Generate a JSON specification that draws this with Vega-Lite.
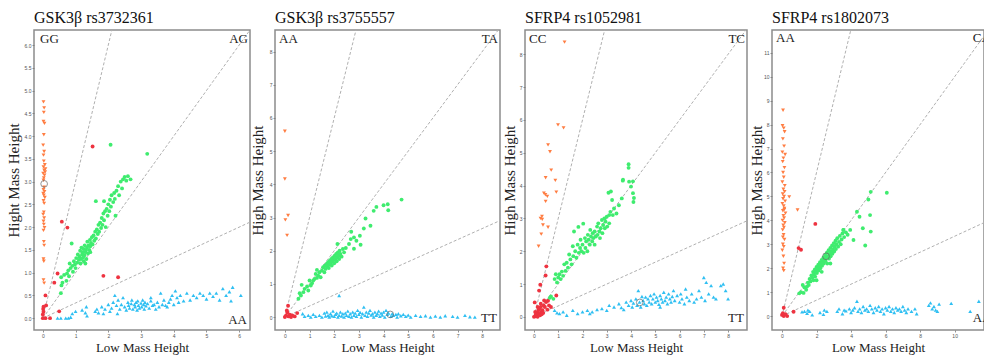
{
"$schema": "https://vega.github.io/schema/vega-lite/v6.json",
"padding": {"left": 5, "top": 9, "right": 0, "bottom": 0},
"bounds": "flush",
"spacing": 25,
"datasets": {
"p1": [
{"g":"o","x":0.02,"y":4.75},{"g":"o","x":0.04,"y":4.62},{"g":"o","x":0.03,"y":4.52},{"g":"o","x":0.02,"y":4.32},{"g":"o","x":0.05,"y":4.28},{"g":"o","x":0.03,"y":4.03},{"g":"o","x":0.01,"y":3.8},{"g":"o","x":0.04,"y":3.66},{"g":"o","x":0.02,"y":3.58},{"g":"o","x":0.03,"y":3.45},{"g":"o","x":0.06,"y":3.37},{"g":"o","x":0.02,"y":3.32},{"g":"o","x":0.08,"y":3.28},{"g":"o","x":0.04,"y":3.25},{"g":"o","x":0.07,"y":3.21},{"g":"o","x":0.01,"y":3.18},{"g":"o","x":0.05,"y":3.14},{"g":"o","x":0.03,"y":3.08},{"g":"o","x":0.02,"y":3.03},{"g":"o","x":0.04,"y":2.88},{"g":"o","x":0.02,"y":2.82},{"g":"o","x":0.05,"y":2.78},{"g":"o","x":0.01,"y":2.74},{"g":"o","x":0.03,"y":2.7},{"g":"o","x":0.06,"y":2.65},{"g":"o","x":0.02,"y":2.58},{"g":"o","x":0.04,"y":2.52},{"g":"o","x":0.03,"y":2.33},{"g":"o","x":0.01,"y":2.28},{"g":"o","x":0.04,"y":2.2},{"g":"o","x":0.02,"y":2.13},{"g":"o","x":0.03,"y":2.06},{"g":"o","x":0.05,"y":1.99},{"g":"o","x":0.02,"y":1.93},{"g":"o","x":0.03,"y":1.68},{"g":"o","x":0.04,"y":1.6},{"g":"o","x":0.02,"y":1.3},{"g":"o","x":0.03,"y":1.25},{"g":"o","x":0.02,"y":0.84},{"g":"o","x":0.04,"y":0.77},
{"g":"r","x":0,"y":0},{"g":"r","x":0.08,"y":0},{"g":"r","x":0.22,"y":0},{"g":"r","x":0,"y":0.08},{"g":"r","x":0.01,"y":0.2},{"g":"r","x":0.02,"y":0.25},{"g":"r","x":0.1,"y":0.28},{"g":"r","x":0.08,"y":0.5},{"g":"r","x":0.35,"y":0.78},{"g":"r","x":0.45,"y":0.98},{"g":"r","x":0.58,"y":2.12},{"g":"r","x":0.75,"y":1.99},{"g":"r","x":1.52,"y":3.77},{"g":"r","x":1.85,"y":0.93},{"g":"r","x":2.3,"y":0.9},{"g":"r","x":0.5,"y":0.15},{"g":"r","x":0.02,"y":0.14},
{"g":"g","x":0.55,"y":0.55},{"g":"g","x":0.57,"y":0.72},{"g":"g","x":0.6,"y":0.78},{"g":"g","x":0.56,"y":0.9},{"g":"g","x":0.65,"y":0.95},{"g":"g","x":0.72,"y":0.82},{"g":"g","x":0.74,"y":0.98},{"g":"g","x":0.78,"y":1.05},{"g":"g","x":0.8,"y":0.92},{"g":"g","x":0.85,"y":1.1},{"g":"g","x":0.82,"y":1.2},{"g":"g","x":0.9,"y":1.15},{"g":"g","x":0.92,"y":1.02},{"g":"g","x":0.95,"y":1.25},{"g":"g","x":0.98,"y":1.18},{"g":"g","x":1.0,"y":1.1},{"g":"g","x":1.02,"y":1.32},{"g":"g","x":1.05,"y":1.22},{"g":"g","x":1.07,"y":1.4},{"g":"g","x":1.1,"y":1.28},{"g":"g","x":1.12,"y":1.35},{"g":"g","x":1.14,"y":1.48},{"g":"g","x":1.15,"y":1.2},{"g":"g","x":1.17,"y":1.3},{"g":"g","x":1.18,"y":1.55},{"g":"g","x":1.2,"y":1.4},{"g":"g","x":1.22,"y":1.45},{"g":"g","x":1.23,"y":1.33},{"g":"g","x":1.25,"y":1.52},{"g":"g","x":1.27,"y":1.38},{"g":"g","x":1.28,"y":1.6},{"g":"g","x":1.3,"y":1.45},{"g":"g","x":1.32,"y":1.5},{"g":"g","x":1.33,"y":1.3},{"g":"g","x":1.35,"y":1.55},{"g":"g","x":1.36,"y":1.68},{"g":"g","x":1.38,"y":1.42},{"g":"g","x":1.4,"y":1.6},{"g":"g","x":1.42,"y":1.5},{"g":"g","x":1.44,"y":1.72},{"g":"g","x":1.45,"y":1.58},{"g":"g","x":1.47,"y":1.65},{"g":"g","x":1.5,"y":1.78},{"g":"g","x":1.52,"y":1.62},{"g":"g","x":1.55,"y":1.82},{"g":"g","x":1.57,"y":1.7},{"g":"g","x":1.6,"y":1.9},{"g":"g","x":1.62,"y":1.75},{"g":"g","x":1.65,"y":1.95},{"g":"g","x":1.68,"y":1.85},{"g":"g","x":1.7,"y":2.05},{"g":"g","x":1.72,"y":1.9},{"g":"g","x":1.75,"y":2.1},{"g":"g","x":1.78,"y":1.98},{"g":"g","x":1.8,"y":2.2},{"g":"g","x":1.82,"y":2.05},{"g":"g","x":1.85,"y":2.3},{"g":"g","x":1.87,"y":2.15},{"g":"g","x":1.9,"y":2.35},{"g":"g","x":1.92,"y":2.0},{"g":"g","x":1.95,"y":2.4},{"g":"g","x":1.98,"y":2.25},{"g":"g","x":2.0,"y":2.5},{"g":"g","x":2.03,"y":2.35},{"g":"g","x":2.05,"y":2.6},{"g":"g","x":2.08,"y":2.45},{"g":"g","x":2.1,"y":2.7},{"g":"g","x":2.15,"y":2.55},{"g":"g","x":2.18,"y":2.75},{"g":"g","x":2.2,"y":2.62},{"g":"g","x":2.22,"y":2.25},{"g":"g","x":2.25,"y":2.8},{"g":"g","x":2.3,"y":2.9},{"g":"g","x":2.33,"y":2.7},{"g":"g","x":2.38,"y":3.0},{"g":"g","x":2.42,"y":2.85},{"g":"g","x":2.45,"y":3.05},{"g":"g","x":2.5,"y":3.1},{"g":"g","x":2.55,"y":3.02},{"g":"g","x":2.6,"y":3.12},{"g":"g","x":2.68,"y":3.05},{"g":"g","x":1.62,"y":2.57},{"g":"g","x":1.87,"y":2.57},{"g":"g","x":0.88,"y":1.64},{"g":"g","x":2.07,"y":3.81},{"g":"g","x":3.19,"y":3.61},{"g":"g","x":1.3,"y":1.2},{"g":"g","x":1.25,"y":1.25},{"g":"g","x":1.45,"y":1.45},
{"g":"b","x":0.45,"y":0.0},{"g":"b","x":0.55,"y":0.0},{"g":"b","x":0.7,"y":0.0},{"g":"b","x":0.78,"y":0.0},{"g":"b","x":0.85,"y":0.02},{"g":"b","x":0.9,"y":0.1},{"g":"b","x":1.0,"y":0.15},{"g":"b","x":1.2,"y":0.18},{"g":"b","x":1.3,"y":0.12},{"g":"b","x":1.33,"y":0.25},{"g":"b","x":1.35,"y":0.05},{"g":"b","x":1.6,"y":0.15},{"g":"b","x":1.65,"y":0.2},{"g":"b","x":1.7,"y":0.12},{"g":"b","x":1.8,"y":0.25},{"g":"b","x":1.85,"y":0.1},{"g":"b","x":1.9,"y":0.2},{"g":"b","x":2.0,"y":0.3},{"g":"b","x":2.05,"y":0.15},{"g":"b","x":2.1,"y":0.22},{"g":"b","x":2.15,"y":0.35},{"g":"b","x":2.2,"y":0.5},{"g":"b","x":2.25,"y":0.28},{"g":"b","x":2.28,"y":0.1},{"g":"b","x":2.3,"y":0.4},{"g":"b","x":2.35,"y":0.2},{"g":"b","x":2.4,"y":0.3},{"g":"b","x":2.45,"y":0.45},{"g":"b","x":2.5,"y":0.25},{"g":"b","x":2.55,"y":0.18},{"g":"b","x":2.6,"y":0.35},{"g":"b","x":2.62,"y":0.28},{"g":"b","x":2.65,"y":0.22},{"g":"b","x":2.7,"y":0.32},{"g":"b","x":2.72,"y":0.4},{"g":"b","x":2.75,"y":0.2},{"g":"b","x":2.8,"y":0.3},{"g":"b","x":2.82,"y":0.25},{"g":"b","x":2.85,"y":0.35},{"g":"b","x":2.88,"y":0.18},{"g":"b","x":2.9,"y":0.38},{"g":"b","x":2.92,"y":0.28},{"g":"b","x":2.95,"y":0.22},{"g":"b","x":3.0,"y":0.33},{"g":"b","x":3.02,"y":0.25},{"g":"b","x":3.05,"y":0.4},{"g":"b","x":3.08,"y":0.3},{"g":"b","x":3.1,"y":0.2},{"g":"b","x":3.12,"y":0.35},{"g":"b","x":3.15,"y":0.27},{"g":"b","x":3.2,"y":0.32},{"g":"b","x":3.25,"y":0.22},{"g":"b","x":3.3,"y":0.38},{"g":"b","x":3.35,"y":0.28},{"g":"b","x":3.4,"y":0.3},{"g":"b","x":3.45,"y":0.2},{"g":"b","x":3.5,"y":0.35},{"g":"b","x":3.55,"y":0.25},{"g":"b","x":3.6,"y":0.55},{"g":"b","x":3.65,"y":0.3},{"g":"b","x":3.7,"y":0.4},{"g":"b","x":3.75,"y":0.28},{"g":"b","x":3.8,"y":0.25},{"g":"b","x":3.85,"y":0.35},{"g":"b","x":3.9,"y":0.42},{"g":"b","x":4.0,"y":0.3},{"g":"b","x":4.05,"y":0.6},{"g":"b","x":4.1,"y":0.45},{"g":"b","x":4.15,"y":0.35},{"g":"b","x":4.2,"y":0.5},{"g":"b","x":4.3,"y":0.38},{"g":"b","x":4.4,"y":0.55},{"g":"b","x":4.5,"y":0.4},{"g":"b","x":4.6,"y":0.5},{"g":"b","x":4.7,"y":0.45},{"g":"b","x":4.8,"y":0.55},{"g":"b","x":4.9,"y":0.5},{"g":"b","x":5.0,"y":0.42},{"g":"b","x":5.1,"y":0.55},{"g":"b","x":5.2,"y":0.48},{"g":"b","x":5.3,"y":0.55},{"g":"b","x":5.4,"y":0.4},{"g":"b","x":5.5,"y":0.65},{"g":"b","x":5.6,"y":0.5},{"g":"b","x":5.7,"y":0.58},{"g":"b","x":5.75,"y":0.38},{"g":"b","x":5.8,"y":0.68},{"g":"b","x":6.05,"y":0.5},{"g":"b","x":3.95,"y":0.5},{"g":"b","x":3.3,"y":0.45}
],
"p2": [
{"g":"o","x":0.0,"y":5.6},{"g":"o","x":0.0,"y":4.16},{"g":"o","x":0.02,"y":2.93},{"g":"o","x":0.13,"y":3.06},{"g":"o","x":0.09,"y":2.46},
{"g":"r","x":0.13,"y":0.34},{"g":"r","x":0.0,"y":0.0},{"g":"r","x":0.1,"y":0.14},{"g":"r","x":0.2,"y":0.07},{"g":"r","x":0.4,"y":0.02},{"g":"r","x":0.5,"y":0.12},{"g":"r","x":0.05,"y":0.05},{"g":"r","x":0.15,"y":0.02},{"g":"r","x":0.25,"y":0.0},{"g":"r","x":0.08,"y":0.2},{"g":"r","x":0.3,"y":0.05},
{"g":"g","x":0.55,"y":0.55},{"g":"g","x":0.6,"y":0.72},{"g":"g","x":0.65,"y":0.65},{"g":"g","x":0.68,"y":0.97},{"g":"g","x":0.75,"y":0.75},{"g":"g","x":0.8,"y":0.85},{"g":"g","x":0.9,"y":0.92},{"g":"g","x":0.95,"y":0.8},{"g":"g","x":1.0,"y":1.1},{"g":"g","x":1.05,"y":0.95},{"g":"g","x":1.1,"y":1.02},{"g":"g","x":1.2,"y":1.15},{"g":"g","x":1.25,"y":1.3},{"g":"g","x":1.3,"y":1.18},{"g":"g","x":1.35,"y":1.25},{"g":"g","x":1.4,"y":1.35},{"g":"g","x":1.45,"y":1.2},{"g":"g","x":1.5,"y":1.4},{"g":"g","x":1.55,"y":1.5},{"g":"g","x":1.6,"y":1.35},{"g":"g","x":1.62,"y":1.55},{"g":"g","x":1.65,"y":1.45},{"g":"g","x":1.7,"y":1.6},{"g":"g","x":1.72,"y":1.52},{"g":"g","x":1.75,"y":1.65},{"g":"g","x":1.78,"y":1.48},{"g":"g","x":1.8,"y":1.58},{"g":"g","x":1.82,"y":1.7},{"g":"g","x":1.85,"y":1.62},{"g":"g","x":1.88,"y":1.75},{"g":"g","x":1.9,"y":1.55},{"g":"g","x":1.92,"y":1.68},{"g":"g","x":1.95,"y":1.8},{"g":"g","x":1.98,"y":1.72},{"g":"g","x":2.0,"y":1.62},{"g":"g","x":2.02,"y":1.85},{"g":"g","x":2.05,"y":1.75},{"g":"g","x":2.08,"y":1.9},{"g":"g","x":2.1,"y":1.68},{"g":"g","x":2.12,"y":1.8},{"g":"g","x":2.15,"y":1.95},{"g":"g","x":2.18,"y":1.85},{"g":"g","x":2.2,"y":1.75},{"g":"g","x":2.22,"y":2.0},{"g":"g","x":2.25,"y":1.9},{"g":"g","x":2.3,"y":1.82},{"g":"g","x":2.35,"y":2.05},{"g":"g","x":2.4,"y":1.95},{"g":"g","x":2.13,"y":2.2},{"g":"g","x":2.47,"y":2.08},{"g":"g","x":2.67,"y":2.35},{"g":"g","x":2.69,"y":2.57},{"g":"g","x":2.8,"y":2.4},{"g":"g","x":2.8,"y":2.06},{"g":"g","x":3.04,"y":2.45},{"g":"g","x":3.07,"y":2.18},{"g":"g","x":2.9,"y":2.3},{"g":"g","x":3.2,"y":2.67},{"g":"g","x":3.27,"y":2.97},{"g":"g","x":3.47,"y":2.75},{"g":"g","x":3.6,"y":3.2},{"g":"g","x":3.71,"y":3.32},{"g":"g","x":4.0,"y":3.37},{"g":"g","x":4.17,"y":3.4},{"g":"g","x":4.19,"y":3.22},{"g":"g","x":4.73,"y":3.54},{"g":"g","x":2.6,"y":2.2},{"g":"g","x":1.3,"y":1.42},{"g":"g","x":1.15,"y":1.1},
{"g":"b","x":0.72,"y":0.1},{"g":"b","x":0.8,"y":0.02},{"g":"b","x":0.95,"y":0.05},{"g":"b","x":1.05,"y":0.0},{"g":"b","x":1.15,"y":0.08},{"g":"b","x":1.25,"y":0.02},{"g":"b","x":1.4,"y":0.05},{"g":"b","x":1.5,"y":0.0},{"g":"b","x":1.6,"y":0.12},{"g":"b","x":1.65,"y":0.03},{"g":"b","x":1.7,"y":0.15},{"g":"b","x":1.75,"y":0.05},{"g":"b","x":1.8,"y":0.0},{"g":"b","x":1.85,"y":0.1},{"g":"b","x":1.9,"y":0.04},{"g":"b","x":1.95,"y":0.18},{"g":"b","x":2.0,"y":0.02},{"g":"b","x":2.05,"y":0.08},{"g":"b","x":2.1,"y":0.12},{"g":"b","x":2.15,"y":0.0},{"g":"b","x":2.2,"y":0.05},{"g":"b","x":2.25,"y":0.15},{"g":"b","x":2.3,"y":0.03},{"g":"b","x":2.35,"y":0.1},{"g":"b","x":2.4,"y":0.0},{"g":"b","x":2.45,"y":0.12},{"g":"b","x":2.5,"y":0.05},{"g":"b","x":2.55,"y":0.18},{"g":"b","x":2.6,"y":0.02},{"g":"b","x":2.65,"y":0.1},{"g":"b","x":2.7,"y":0.0},{"g":"b","x":2.75,"y":0.15},{"g":"b","x":2.8,"y":0.05},{"g":"b","x":2.85,"y":0.12},{"g":"b","x":2.9,"y":0.02},{"g":"b","x":2.95,"y":0.2},{"g":"b","x":3.0,"y":0.08},{"g":"b","x":3.05,"y":0.14},{"g":"b","x":3.1,"y":0.0},{"g":"b","x":3.15,"y":0.1},{"g":"b","x":3.2,"y":0.3},{"g":"b","x":3.25,"y":0.05},{"g":"b","x":3.3,"y":0.15},{"g":"b","x":3.35,"y":0.02},{"g":"b","x":3.4,"y":0.12},{"g":"b","x":3.45,"y":0.2},{"g":"b","x":3.5,"y":0.06},{"g":"b","x":3.55,"y":0.1},{"g":"b","x":3.6,"y":0.0},{"g":"b","x":3.65,"y":0.15},{"g":"b","x":3.7,"y":0.05},{"g":"b","x":3.75,"y":0.1},{"g":"b","x":3.8,"y":0.18},{"g":"b","x":3.85,"y":0.02},{"g":"b","x":3.9,"y":0.12},{"g":"b","x":3.95,"y":0.06},{"g":"b","x":4.0,"y":0.15},{"g":"b","x":4.05,"y":0.0},{"g":"b","x":4.1,"y":0.2},{"g":"b","x":4.15,"y":0.08},{"g":"b","x":4.2,"y":0.12},{"g":"b","x":4.3,"y":0.02},{"g":"b","x":4.35,"y":0.1},{"g":"b","x":4.4,"y":0.05},{"g":"b","x":4.5,"y":0.08},{"g":"b","x":4.55,"y":0.0},{"g":"b","x":4.6,"y":0.1},{"g":"b","x":4.7,"y":0.04},{"g":"b","x":4.8,"y":0.08},{"g":"b","x":4.9,"y":0.02},{"g":"b","x":5.0,"y":0.06},{"g":"b","x":5.1,"y":0.0},{"g":"b","x":5.3,"y":0.05},{"g":"b","x":5.5,"y":0.02},{"g":"b","x":5.7,"y":0.04},{"g":"b","x":5.9,"y":0.0},{"g":"b","x":6.1,"y":0.03},{"g":"b","x":6.3,"y":0.0},{"g":"b","x":6.5,"y":0.04},{"g":"b","x":6.8,"y":0.02},{"g":"b","x":7.0,"y":0.0},{"g":"b","x":7.3,"y":0.05},{"g":"b","x":7.5,"y":0.01},{"g":"b","x":7.7,"y":0.0},{"g":"b","x":2.2,"y":0.65}
],
"p3": [
{"g":"o","x":1.26,"y":8.37},{"g":"o","x":0.99,"y":5.85},{"g":"o","x":1.22,"y":5.76},{"g":"o","x":0.58,"y":5.24},{"g":"o","x":0.66,"y":5.03},{"g":"o","x":0.71,"y":4.47},{"g":"o","x":0.48,"y":4.24},{"g":"o","x":0.88,"y":4.16},{"g":"o","x":0.41,"y":3.77},{"g":"o","x":0.47,"y":3.72},{"g":"o","x":0.55,"y":3.67},{"g":"o","x":0.48,"y":3.52},{"g":"o","x":0.33,"y":3.06},{"g":"o","x":0.27,"y":3.0},{"g":"o","x":0.34,"y":2.97},{"g":"o","x":0.37,"y":2.8},{"g":"o","x":0.58,"y":2.73},{"g":"o","x":0.3,"y":2.52},{"g":"o","x":0.19,"y":2.15},{"g":"o","x":0.92,"y":3.8},
{"g":"r","x":0.48,"y":1.26},{"g":"r","x":0.51,"y":1.54},{"g":"r","x":0.26,"y":0.98},{"g":"r","x":0.21,"y":0.8},{"g":"r","x":0.03,"y":0.44},{"g":"r","x":0.92,"y":0.65},{"g":"r","x":0.58,"y":0.49},{"g":"r","x":0.0,"y":0.0},{"g":"r","x":0.05,"y":0.02},{"g":"r","x":0.1,"y":0.05},{"g":"r","x":0.15,"y":0.0},{"g":"r","x":0.2,"y":0.1},{"g":"r","x":0.25,"y":0.05},{"g":"r","x":0.3,"y":0.15},{"g":"r","x":0.12,"y":0.12},{"g":"r","x":0.18,"y":0.2},{"g":"r","x":0.22,"y":0.25},{"g":"r","x":0.28,"y":0.3},{"g":"r","x":0.35,"y":0.2},{"g":"r","x":0.4,"y":0.35},{"g":"r","x":0.45,"y":0.3},{"g":"r","x":0.5,"y":0.45},{"g":"r","x":0.08,"y":0.08},{"g":"r","x":0.32,"y":0.08},{"g":"r","x":0.38,"y":0.12},{"g":"r","x":0.05,"y":0.15},{"g":"r","x":0.28,"y":0.4},{"g":"r","x":0.62,"y":0.35},{"g":"r","x":0.7,"y":0.3},{"g":"r","x":0.15,"y":0.3},{"g":"r","x":0.42,"y":0.5},{"g":"r","x":0.55,"y":0.22},
{"g":"g","x":0.65,"y":0.58},{"g":"g","x":0.7,"y":0.62},{"g":"g","x":0.8,"y":0.55},{"g":"g","x":0.85,"y":1.15},{"g":"g","x":0.9,"y":1.3},{"g":"g","x":0.95,"y":1.05},{"g":"g","x":1.0,"y":1.2},{"g":"g","x":1.05,"y":1.3},{"g":"g","x":1.1,"y":1.15},{"g":"g","x":1.15,"y":1.38},{"g":"g","x":1.2,"y":1.25},{"g":"g","x":1.3,"y":1.4},{"g":"g","x":1.35,"y":1.65},{"g":"g","x":1.4,"y":1.5},{"g":"g","x":1.5,"y":1.75},{"g":"g","x":1.55,"y":1.6},{"g":"g","x":1.6,"y":2.15},{"g":"g","x":1.62,"y":1.85},{"g":"g","x":1.65,"y":2.6},{"g":"g","x":1.7,"y":2.0},{"g":"g","x":1.75,"y":1.8},{"g":"g","x":1.8,"y":2.2},{"g":"g","x":1.83,"y":2.74},{"g":"g","x":1.85,"y":1.95},{"g":"g","x":1.9,"y":2.1},{"g":"g","x":1.92,"y":2.35},{"g":"g","x":1.95,"y":2.0},{"g":"g","x":2.0,"y":2.2},{"g":"g","x":2.03,"y":2.84},{"g":"g","x":2.05,"y":1.95},{"g":"g","x":2.1,"y":2.4},{"g":"g","x":2.12,"y":2.1},{"g":"g","x":2.15,"y":2.3},{"g":"g","x":2.2,"y":2.0},{"g":"g","x":2.22,"y":2.5},{"g":"g","x":2.25,"y":2.35},{"g":"g","x":2.3,"y":2.2},{"g":"g","x":2.32,"y":2.65},{"g":"g","x":2.35,"y":2.45},{"g":"g","x":2.4,"y":2.3},{"g":"g","x":2.42,"y":2.55},{"g":"g","x":2.45,"y":2.4},{"g":"g","x":2.5,"y":2.6},{"g":"g","x":2.55,"y":2.45},{"g":"g","x":2.6,"y":2.75},{"g":"g","x":2.62,"y":2.5},{"g":"g","x":2.65,"y":2.85},{"g":"g","x":2.7,"y":2.6},{"g":"g","x":2.72,"y":2.4},{"g":"g","x":2.75,"y":2.7},{"g":"g","x":2.8,"y":2.95},{"g":"g","x":2.82,"y":2.55},{"g":"g","x":2.85,"y":2.8},{"g":"g","x":2.9,"y":3.0},{"g":"g","x":2.92,"y":2.7},{"g":"g","x":2.95,"y":2.9},{"g":"g","x":3.0,"y":3.05},{"g":"g","x":3.02,"y":2.75},{"g":"g","x":3.07,"y":3.78},{"g":"g","x":3.1,"y":3.1},{"g":"g","x":3.15,"y":3.2},{"g":"g","x":3.17,"y":3.82},{"g":"g","x":3.22,"y":3.56},{"g":"g","x":3.25,"y":3.1},{"g":"g","x":3.3,"y":3.3},{"g":"g","x":3.4,"y":3.15},{"g":"g","x":3.5,"y":3.4},{"g":"g","x":3.62,"y":3.61},{"g":"g","x":3.66,"y":4.15},{"g":"g","x":3.67,"y":4.18},{"g":"g","x":3.9,"y":4.65},{"g":"g","x":3.9,"y":4.54},{"g":"g","x":3.92,"y":4.12},{"g":"g","x":4.0,"y":3.97},{"g":"g","x":4.08,"y":4.13},{"g":"g","x":4.08,"y":3.77},{"g":"g","x":4.12,"y":3.62},{"g":"g","x":4.1,"y":3.5},{"g":"g","x":3.1,"y":2.85},{"g":"g","x":1.45,"y":1.9},{"g":"g","x":1.25,"y":1.6},{"g":"g","x":2.5,"y":2.2},
{"g":"b","x":0.85,"y":0.2},{"g":"b","x":0.95,"y":0.12},{"g":"b","x":1.05,"y":0.1},{"g":"b","x":1.2,"y":0.15},{"g":"b","x":1.35,"y":0.05},{"g":"b","x":1.6,"y":0.2},{"g":"b","x":1.8,"y":0.1},{"g":"b","x":2.0,"y":0.15},{"g":"b","x":2.2,"y":0.2},{"g":"b","x":2.4,"y":0.15},{"g":"b","x":2.6,"y":0.22},{"g":"b","x":2.8,"y":0.25},{"g":"b","x":3.0,"y":0.2},{"g":"b","x":3.1,"y":0.35},{"g":"b","x":3.3,"y":0.3},{"g":"b","x":3.5,"y":0.4},{"g":"b","x":3.6,"y":0.28},{"g":"b","x":3.8,"y":0.45},{"g":"b","x":3.9,"y":0.35},{"g":"b","x":4.0,"y":0.5},{"g":"b","x":4.05,"y":0.3},{"g":"b","x":4.1,"y":0.42},{"g":"b","x":4.2,"y":0.55},{"g":"b","x":4.25,"y":0.35},{"g":"b","x":4.3,"y":0.8},{"g":"b","x":4.35,"y":0.45},{"g":"b","x":4.4,"y":0.3},{"g":"b","x":4.5,"y":0.5},{"g":"b","x":4.55,"y":0.4},{"g":"b","x":4.6,"y":0.6},{"g":"b","x":4.65,"y":0.35},{"g":"b","x":4.7,"y":0.55},{"g":"b","x":4.75,"y":0.45},{"g":"b","x":4.8,"y":0.65},{"g":"b","x":4.85,"y":0.4},{"g":"b","x":4.9,"y":0.55},{"g":"b","x":4.95,"y":0.7},{"g":"b","x":5.0,"y":0.45},{"g":"b","x":5.05,"y":0.6},{"g":"b","x":5.1,"y":0.5},{"g":"b","x":5.15,"y":0.38},{"g":"b","x":5.2,"y":0.65},{"g":"b","x":5.25,"y":0.55},{"g":"b","x":5.3,"y":0.45},{"g":"b","x":5.35,"y":0.75},{"g":"b","x":5.4,"y":0.5},{"g":"b","x":5.45,"y":0.6},{"g":"b","x":5.5,"y":0.4},{"g":"b","x":5.55,"y":0.7},{"g":"b","x":5.6,"y":0.55},{"g":"b","x":5.65,"y":0.45},{"g":"b","x":5.7,"y":0.62},{"g":"b","x":5.75,"y":0.8},{"g":"b","x":5.8,"y":0.5},{"g":"b","x":5.9,"y":0.65},{"g":"b","x":6.0,"y":0.45},{"g":"b","x":6.05,"y":0.7},{"g":"b","x":6.1,"y":0.55},{"g":"b","x":6.2,"y":0.4},{"g":"b","x":6.3,"y":0.6},{"g":"b","x":6.4,"y":0.5},{"g":"b","x":6.5,"y":0.7},{"g":"b","x":6.6,"y":0.45},{"g":"b","x":6.7,"y":0.55},{"g":"b","x":6.8,"y":0.8},{"g":"b","x":6.9,"y":0.6},{"g":"b","x":7.0,"y":1.2},{"g":"b","x":7.05,"y":0.5},{"g":"b","x":7.1,"y":1.05},{"g":"b","x":7.2,"y":0.7},{"g":"b","x":7.3,"y":0.95},{"g":"b","x":7.4,"y":0.6},{"g":"b","x":7.5,"y":0.55},{"g":"b","x":7.7,"y":0.95},{"g":"b","x":7.8,"y":1.0},{"g":"b","x":7.9,"y":0.8},{"g":"b","x":8.0,"y":0.55},{"g":"b","x":6.25,"y":0.85},{"g":"b","x":5.2,"y":0.3},{"g":"b","x":4.45,"y":0.62},{"g":"b","x":3.7,"y":0.22},{"g":"b","x":2.3,"y":0.1}
],
"p4": [
{"g":"o","x":0.06,"y":8.6},{"g":"o","x":0.03,"y":7.95},{"g":"o","x":0.1,"y":7.85},{"g":"o","x":0.15,"y":7.7},{"g":"o","x":0.05,"y":7.4},{"g":"o","x":0.12,"y":7.1},{"g":"o","x":0.02,"y":6.85},{"g":"o","x":0.18,"y":6.75},{"g":"o","x":0.08,"y":6.6},{"g":"o","x":0.04,"y":6.45},{"g":"o","x":0.14,"y":6.2},{"g":"o","x":0.06,"y":6.0},{"g":"o","x":0.1,"y":5.8},{"g":"o","x":0.02,"y":5.6},{"g":"o","x":0.16,"y":5.45},{"g":"o","x":0.08,"y":5.3},{"g":"o","x":0.04,"y":5.1},{"g":"o","x":0.12,"y":5.0},{"g":"o","x":0.06,"y":4.9},{"g":"o","x":0.18,"y":4.8},{"g":"o","x":0.02,"y":4.7},{"g":"o","x":0.1,"y":4.6},{"g":"o","x":0.14,"y":4.5},{"g":"o","x":0.05,"y":4.4},{"g":"o","x":0.2,"y":4.3},{"g":"o","x":0.08,"y":4.2},{"g":"o","x":0.12,"y":4.1},{"g":"o","x":0.03,"y":4.0},{"g":"o","x":0.16,"y":3.9},{"g":"o","x":0.07,"y":3.8},{"g":"o","x":0.11,"y":3.7},{"g":"o","x":0.04,"y":3.6},{"g":"o","x":0.09,"y":3.4},{"g":"o","x":0.14,"y":3.2},{"g":"o","x":0.05,"y":3.0},{"g":"o","x":0.1,"y":2.9},{"g":"o","x":0.02,"y":2.75},{"g":"o","x":0.08,"y":2.5},{"g":"o","x":0.12,"y":2.2},{"g":"o","x":0.06,"y":2.0},{"g":"o","x":0.1,"y":1.9},{"g":"o","x":0.42,"y":4.98},{"g":"o","x":0.9,"y":4.43},{"g":"o","x":0.15,"y":5.2},{"g":"o","x":0.05,"y":3.3},{"g":"o","x":0.13,"y":4.45},
{"g":"r","x":1.93,"y":3.85},{"g":"r","x":0.96,"y":2.84},{"g":"r","x":1.1,"y":2.77},{"g":"r","x":0.1,"y":0.35},{"g":"r","x":0.0,"y":0.05},{"g":"r","x":0.1,"y":0.0},{"g":"r","x":0.3,"y":0.0},{"g":"r","x":0.67,"y":0.18},{"g":"r","x":0.05,"y":0.12},{"g":"r","x":0.2,"y":0.08},
{"g":"g","x":1.0,"y":0.95},{"g":"g","x":1.1,"y":1.0},{"g":"g","x":1.25,"y":0.97},{"g":"g","x":1.3,"y":1.2},{"g":"g","x":1.45,"y":1.24},{"g":"g","x":1.5,"y":1.4},{"g":"g","x":1.55,"y":1.3},{"g":"g","x":1.6,"y":1.55},{"g":"g","x":1.65,"y":1.45},{"g":"g","x":1.7,"y":1.7},{"g":"g","x":1.75,"y":1.6},{"g":"g","x":1.8,"y":1.85},{"g":"g","x":1.82,"y":1.5},{"g":"g","x":1.85,"y":1.75},{"g":"g","x":1.9,"y":1.95},{"g":"g","x":1.92,"y":1.65},{"g":"g","x":1.95,"y":1.85},{"g":"g","x":2.0,"y":2.05},{"g":"g","x":2.02,"y":1.8},{"g":"g","x":2.05,"y":1.95},{"g":"g","x":2.1,"y":2.15},{"g":"g","x":2.12,"y":1.9},{"g":"g","x":2.15,"y":2.05},{"g":"g","x":2.2,"y":2.25},{"g":"g","x":2.22,"y":2.0},{"g":"g","x":2.25,"y":2.15},{"g":"g","x":2.3,"y":2.35},{"g":"g","x":2.32,"y":2.1},{"g":"g","x":2.35,"y":2.25},{"g":"g","x":2.4,"y":2.45},{"g":"g","x":2.42,"y":2.2},{"g":"g","x":2.45,"y":2.35},{"g":"g","x":2.5,"y":2.55},{"g":"g","x":2.52,"y":2.3},{"g":"g","x":2.55,"y":2.45},{"g":"g","x":2.6,"y":2.65},{"g":"g","x":2.62,"y":2.2},{"g":"g","x":2.65,"y":2.5},{"g":"g","x":2.7,"y":2.75},{"g":"g","x":2.72,"y":2.4},{"g":"g","x":2.75,"y":2.6},{"g":"g","x":2.8,"y":2.85},{"g":"g","x":2.82,"y":2.5},{"g":"g","x":2.85,"y":2.7},{"g":"g","x":2.9,"y":2.95},{"g":"g","x":2.92,"y":2.6},{"g":"g","x":2.95,"y":2.8},{"g":"g","x":3.0,"y":3.05},{"g":"g","x":3.02,"y":2.7},{"g":"g","x":3.05,"y":2.9},{"g":"g","x":3.1,"y":3.15},{"g":"g","x":3.12,"y":2.8},{"g":"g","x":3.15,"y":3.0},{"g":"g","x":3.2,"y":3.25},{"g":"g","x":3.25,"y":2.9},{"g":"g","x":3.3,"y":3.1},{"g":"g","x":3.35,"y":3.35},{"g":"g","x":3.4,"y":3.0},{"g":"g","x":3.45,"y":3.2},{"g":"g","x":3.5,"y":3.45},{"g":"g","x":3.55,"y":3.6},{"g":"g","x":3.6,"y":3.3},{"g":"g","x":3.7,"y":3.5},{"g":"g","x":3.8,"y":3.4},{"g":"g","x":3.95,"y":3.6},{"g":"g","x":3.56,"y":3.6},{"g":"g","x":2.0,"y":1.5},{"g":"g","x":2.3,"y":1.85},{"g":"g","x":2.8,"y":2.2},{"g":"g","x":1.4,"y":1.1},{"g":"g","x":1.2,"y":1.3},{"g":"g","x":5.14,"y":5.19},{"g":"g","x":5.0,"y":4.87},{"g":"g","x":6.07,"y":5.15},{"g":"g","x":4.34,"y":4.36},{"g":"g","x":4.49,"y":4.15},{"g":"g","x":5.1,"y":4.22},{"g":"g","x":4.68,"y":3.67},{"g":"g","x":5.14,"y":3.53},{"g":"g","x":4.82,"y":2.95},{"g":"g","x":4.14,"y":3.18},
{"g":"b","x":1.16,"y":0.18},{"g":"b","x":1.3,"y":0.2},{"g":"b","x":1.45,"y":0.12},{"g":"b","x":1.5,"y":0.25},{"g":"b","x":1.6,"y":0.2},{"g":"b","x":1.75,"y":0.05},{"g":"b","x":2.2,"y":0.15},{"g":"b","x":2.4,"y":0.07},{"g":"b","x":2.45,"y":0.25},{"g":"b","x":2.6,"y":0.2},{"g":"b","x":3.2,"y":0.2},{"g":"b","x":3.3,"y":0.3},{"g":"b","x":3.5,"y":0.1},{"g":"b","x":3.6,"y":0.25},{"g":"b","x":3.7,"y":0.22},{"g":"b","x":3.9,"y":0.3},{"g":"b","x":4.0,"y":0.15},{"g":"b","x":4.1,"y":0.25},{"g":"b","x":4.2,"y":0.35},{"g":"b","x":4.34,"y":0.62},{"g":"b","x":4.4,"y":0.2},{"g":"b","x":4.5,"y":0.3},{"g":"b","x":4.6,"y":0.15},{"g":"b","x":4.7,"y":0.4},{"g":"b","x":4.8,"y":0.25},{"g":"b","x":4.9,"y":0.3},{"g":"b","x":5.0,"y":0.2},{"g":"b","x":5.1,"y":0.45},{"g":"b","x":5.2,"y":0.3},{"g":"b","x":5.3,"y":0.15},{"g":"b","x":5.4,"y":0.35},{"g":"b","x":5.5,"y":0.25},{"g":"b","x":5.6,"y":0.4},{"g":"b","x":5.7,"y":0.2},{"g":"b","x":5.8,"y":0.3},{"g":"b","x":5.9,"y":0.1},{"g":"b","x":6.0,"y":0.35},{"g":"b","x":6.1,"y":0.25},{"g":"b","x":6.2,"y":0.4},{"g":"b","x":6.3,"y":0.2},{"g":"b","x":6.4,"y":0.3},{"g":"b","x":6.5,"y":0.15},{"g":"b","x":6.6,"y":0.35},{"g":"b","x":6.7,"y":0.25},{"g":"b","x":6.8,"y":0.3},{"g":"b","x":6.9,"y":0.2},{"g":"b","x":7.0,"y":0.4},{"g":"b","x":7.1,"y":0.25},{"g":"b","x":7.2,"y":0.15},{"g":"b","x":7.3,"y":0.3},{"g":"b","x":7.5,"y":0.2},{"g":"b","x":7.7,"y":0.3},{"g":"b","x":7.8,"y":0.1},{"g":"b","x":8.5,"y":0.45},{"g":"b","x":8.6,"y":0.55},{"g":"b","x":8.7,"y":0.3},{"g":"b","x":8.8,"y":0.4},{"g":"b","x":9.0,"y":0.2},{"g":"b","x":9.1,"y":0.5},{"g":"b","x":9.8,"y":0.53},{"g":"b","x":10.9,"y":0.2},{"g":"b","x":11.4,"y":0.62},{"g":"b","x":8.9,"y":0.25}
]
},
"hconcat": [
{
"width": 216, "height": 300,
"title": {"text": "GSK3β rs3732361"},
"encoding": {
"x": {"field": "x", "type": "quantitative", "scale": {"domain": [-0.27, 6.33], "nice": false, "zero": false}, "axis": {"title": "Low Mass Height", "values": [0,1,2,3,4,5,6], "format": "d"}},
"y": {"field": "y", "type": "quantitative", "scale": {"domain": [-0.26, 6.33], "nice": false, "zero": false}, "axis": {"title": "Hight Mass Height", "values": [0,0.5,1,1.5,2,2.5,3,3.5,4,4.5,5,5.5,6], "format": ".1f", "titlePadding": 7}}
},
"layer": [
{"data": {"values": [{"x":0,"y":0,"x2":2.2,"y2":6.6},{"x":0,"y":0,"x2":7,"y2":7},{"x":0,"y":0,"x2":7,"y2":2.333}]}, "mark": {"type": "rule", "clip": true, "color": "#b0b0b0", "strokeDash": [3,2], "strokeWidth": 1}, "encoding": {"x2": {"field": "x2"}, "y2": {"field": "y2"}}},
{"data": {"name": "p1"}, "mark": {"type": "point", "filled": true, "size": 15, "opacity": 1}, "encoding": {"color": {"field": "g", "type": "nominal", "scale": {"domain": ["o","r","g","b"], "range": ["#ff7d42","#ee3340","#3fec6f","#2fbff2"]}, "legend": null}, "shape": {"field": "g", "type": "nominal", "scale": {"domain": ["o","r","g","b"], "range": ["triangle-down","circle","circle","triangle-up"]}, "legend": null}}},
{"data": {"values": [{"x":0.04,"y":2.95}]}, "mark": {"type": "point", "filled": false, "size": 45, "color": "#666", "strokeWidth": 1}},
{"data": {"values": [{"t":"GG","x":-0.27,"y":6.33}]}, "mark": {"type": "text", "align": "left", "baseline": "top", "dx": 6, "dy": 3, "fontSize": 13, "font": "Liberation Serif", "color": "#222"}, "encoding": {"text": {"field": "t"}}},
{"data": {"values": [{"t":"AG","x":6.33,"y":6.33}]}, "mark": {"type": "text", "align": "right", "baseline": "top", "dx": -2, "dy": 3, "fontSize": 13, "font": "Liberation Serif", "color": "#222"}, "encoding": {"text": {"field": "t"}}},
{"data": {"values": [{"t":"AA","x":6.33,"y":-0.26}]}, "mark": {"type": "text", "align": "right", "baseline": "bottom", "dx": -3, "dy": -3, "fontSize": 13, "font": "Liberation Serif", "color": "#222"}, "encoding": {"text": {"field": "t"}}}
]
},
{
"width": 225, "height": 300,
"title": {"text": "GSK3β rs3755557"},
"encoding": {
"x": {"field": "x", "type": "quantitative", "scale": {"domain": [-0.4, 8.72], "nice": false, "zero": false}, "axis": {"title": "Low Mass Height", "values": [0,1,2,3,4,5,6,7,8], "format": "d"}},
"y": {"field": "y", "type": "quantitative", "scale": {"domain": [-0.39, 8.65], "nice": false, "zero": false}, "axis": {"title": "High Mass Height", "values": [0,1,2,3,4,5,6,7,8], "format": "d", "titlePadding": 4}}
},
"layer": [
{"data": {"values": [{"x":0,"y":0,"x2":3,"y2":9},{"x":0,"y":0,"x2":9,"y2":9},{"x":0,"y":0,"x2":9,"y2":3}]}, "mark": {"type": "rule", "clip": true, "color": "#b0b0b0", "strokeDash": [3,2], "strokeWidth": 1}, "encoding": {"x2": {"field": "x2"}, "y2": {"field": "y2"}}},
{"data": {"name": "p2"}, "mark": {"type": "point", "filled": true, "size": 15, "opacity": 1}, "encoding": {"color": {"field": "g", "type": "nominal", "scale": {"domain": ["o","r","g","b"], "range": ["#ff7d42","#ee3340","#3fec6f","#2fbff2"]}, "legend": null}, "shape": {"field": "g", "type": "nominal", "scale": {"domain": ["o","r","g","b"], "range": ["triangle-down","circle","circle","triangle-up"]}, "legend": null}}},
{"data": {"values": [{"x":4.27,"y":0.08}]}, "mark": {"type": "point", "filled": false, "size": 45, "color": "#666", "strokeWidth": 1}},
{"data": {"values": [{"t":"AA","x":-0.4,"y":8.65}]}, "mark": {"type": "text", "align": "left", "baseline": "top", "dx": 4, "dy": 3, "fontSize": 13, "font": "Liberation Serif", "color": "#222"}, "encoding": {"text": {"field": "t"}}},
{"data": {"values": [{"t":"TA","x":8.72,"y":8.65}]}, "mark": {"type": "text", "align": "right", "baseline": "top", "dx": -2, "dy": 3, "fontSize": 13, "font": "Liberation Serif", "color": "#222"}, "encoding": {"text": {"field": "t"}}},
{"data": {"values": [{"t":"TT","x":8.72,"y":-0.39}]}, "mark": {"type": "text", "align": "right", "baseline": "bottom", "dx": -3, "dy": -5, "fontSize": 13, "font": "Liberation Serif", "color": "#222"}, "encoding": {"text": {"field": "t"}}}
]
},
{
"width": 222, "height": 300,
"title": {"text": "SFRP4 rs1052981"},
"encoding": {
"x": {"field": "x", "type": "quantitative", "scale": {"domain": [-0.37, 8.78], "nice": false, "zero": false}, "axis": {"title": "Low Mass Height", "values": [0,1,2,3,4,5,6,7,8], "format": "d"}},
"y": {"field": "y", "type": "quantitative", "scale": {"domain": [-0.4, 8.74], "nice": false, "zero": false}, "axis": {"title": "High Mass Height", "values": [0,1,2,3,4,5,6,7,8], "format": "d", "titlePadding": 2}}
},
"layer": [
{"data": {"values": [{"x":0,"y":0,"x2":3,"y2":9},{"x":0,"y":0,"x2":9,"y2":9},{"x":0,"y":0,"x2":9,"y2":3}]}, "mark": {"type": "rule", "clip": true, "color": "#b0b0b0", "strokeDash": [3,2], "strokeWidth": 1}, "encoding": {"x2": {"field": "x2"}, "y2": {"field": "y2"}}},
{"data": {"name": "p3"}, "mark": {"type": "point", "filled": true, "size": 15, "opacity": 1}, "encoding": {"color": {"field": "g", "type": "nominal", "scale": {"domain": ["o","r","g","b"], "range": ["#ff7d42","#ee3340","#3fec6f","#2fbff2"]}, "legend": null}, "shape": {"field": "g", "type": "nominal", "scale": {"domain": ["o","r","g","b"], "range": ["triangle-down","circle","circle","triangle-up"]}, "legend": null}}},
{"data": {"values": [{"x":4.36,"y":0.44}]}, "mark": {"type": "point", "filled": false, "size": 45, "color": "#666", "strokeWidth": 1}},
{"data": {"values": [{"t":"CC","x":-0.37,"y":8.74}]}, "mark": {"type": "text", "align": "left", "baseline": "top", "dx": 4, "dy": 3, "fontSize": 13, "font": "Liberation Serif", "color": "#222"}, "encoding": {"text": {"field": "t"}}},
{"data": {"values": [{"t":"TC","x":8.78,"y":8.74}]}, "mark": {"type": "text", "align": "right", "baseline": "top", "dx": -2, "dy": 3, "fontSize": 13, "font": "Liberation Serif", "color": "#222"}, "encoding": {"text": {"field": "t"}}},
{"data": {"values": [{"t":"TT","x":8.78,"y":-0.4}]}, "mark": {"type": "text", "align": "right", "baseline": "bottom", "dx": -3, "dy": -5, "fontSize": 13, "font": "Liberation Serif", "color": "#222"}, "encoding": {"text": {"field": "t"}}}
]
},
{
"width": 212, "height": 300,
"title": {"text": "SFRP4 rs1802073"},
"encoding": {
"x": {"field": "x", "type": "quantitative", "scale": {"domain": [-0.58, 11.7], "nice": false, "zero": false}, "axis": {"title": "Low Mass Height", "values": [0,2,4,6,8,10], "format": "d"}},
"y": {"field": "y", "type": "quantitative", "scale": {"domain": [-0.58, 11.95], "nice": false, "zero": false}, "axis": {"title": "High Mass Height", "values": [0,1,2,3,4,5,6,7,8,9,10,11], "format": "d", "titlePadding": 2}}
},
"layer": [
{"data": {"values": [{"x":0,"y":0,"x2":4.2,"y2":12.6},{"x":0,"y":0,"x2":12.5,"y2":12.5},{"x":0,"y":0,"x2":12.5,"y2":4.17}]}, "mark": {"type": "rule", "clip": true, "color": "#b0b0b0", "strokeDash": [3,2], "strokeWidth": 1}, "encoding": {"x2": {"field": "x2"}, "y2": {"field": "y2"}}},
{"data": {"name": "p4"}, "mark": {"type": "point", "filled": true, "size": 15, "opacity": 1}, "encoding": {"color": {"field": "g", "type": "nominal", "scale": {"domain": ["o","r","g","b"], "range": ["#ff7d42","#ee3340","#3fec6f","#2fbff2"]}, "legend": null}, "shape": {"field": "g", "type": "nominal", "scale": {"domain": ["o","r","g","b"], "range": ["triangle-down","circle","circle","triangle-up"]}, "legend": null}}},
{"data": {"values": [{"x":2.55,"y":2.5}]}, "mark": {"type": "point", "filled": false, "size": 45, "color": "#666", "strokeWidth": 1}},
{"data": {"values": [{"t":"AA","x":-0.58,"y":11.95}]}, "mark": {"type": "text", "align": "left", "baseline": "top", "dx": 4, "dy": 2, "fontSize": 13, "font": "Liberation Serif", "color": "#222"}, "encoding": {"text": {"field": "t"}}},
{"data": {"values": [{"t":"CA","x":11.05,"y":11.95}]}, "mark": {"type": "text", "align": "left", "baseline": "top", "dy": 2, "fontSize": 13, "font": "Liberation Serif", "color": "#222", "clip": true}, "encoding": {"text": {"field": "t"}}},
{"data": {"values": [{"t":"AA","x":11.05,"y":-0.58}]}, "mark": {"type": "text", "align": "left", "baseline": "bottom", "dy": -5, "fontSize": 13, "font": "Liberation Serif", "color": "#222", "clip": true}, "encoding": {"text": {"field": "t"}}}
]
}
],
"config": {
"font": "Liberation Serif",
"view": {"stroke": "#8c8c8c", "strokeWidth": 1.5},
"axis": {"domain": false, "grid": false, "labelFont": "Liberation Sans", "labelFontSize": 5, "labelColor": "#555", "tickColor": "#777", "tickSize": 2, "tickWidth": 0.8, "labelPadding": 1, "titleFont": "Liberation Serif", "titleFontWeight": "normal", "titleColor": "#222"},
"axisX": {"titleFontSize": 13, "minExtent": 6, "maxExtent": 6, "titlePadding": 5},
"axisY": {"titleFontSize": 15, "minExtent": 6, "maxExtent": 6},
"title": {"font": "Liberation Serif", "fontSize": 16, "fontWeight": "normal", "color": "#111", "anchor": "start", "frame": "group", "offset": 4}
}
}
